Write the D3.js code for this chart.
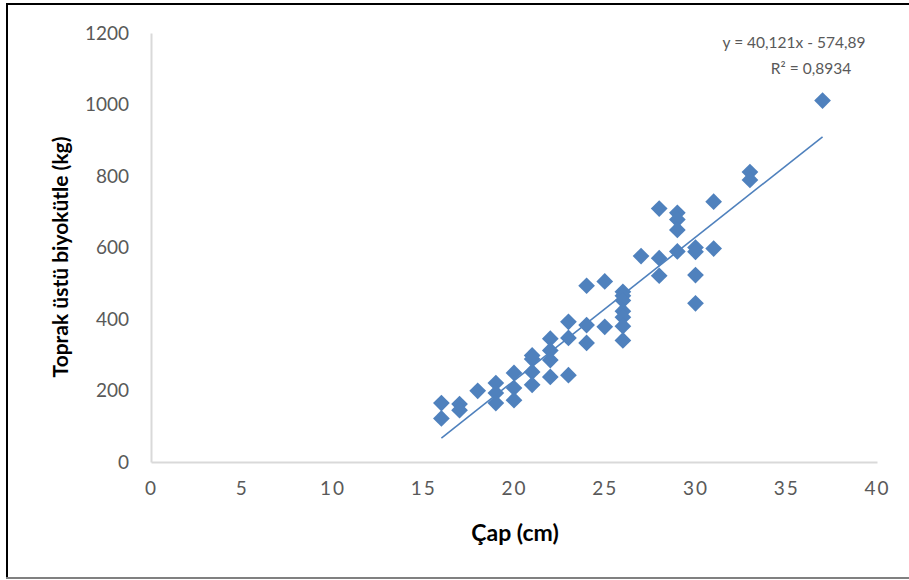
<!DOCTYPE html>
<html>
<head>
<meta charset="utf-8">
<script src="https://cdn.jsdelivr.net/npm/d3@7"></script>
<style>
  html, body { margin: 0; padding: 0; background: #fff; }
  svg { display: block; font-family: Lato, "Open Sans", sans-serif; }
  .tick text { fill: #595959; font-size: 19px; }
  .title { font-weight: bold; fill: #000; }
  .eq { fill: #595959; font-size: 15.5px; }
</style>
</head>
<body>
<svg id="chart" width="909" height="580"></svg>
<script>
// diameter (cm) and above-ground biomass (kg)
const capCm = [16, 16, 17, 17, 18, 19, 19, 19, 20, 20, 20,
  21, 21, 21, 21, 22, 22, 22, 22, 23, 23, 23, 24, 24, 24, 25, 25,
  26, 26, 26, 26, 26, 26, 26, 27, 28, 28, 28, 29, 29, 29, 29,
  30, 30, 30, 30, 31, 31, 33, 33, 37];
const biyokutle = [165, 122, 162, 145, 199, 221, 193, 165, 249, 207, 173,
  298, 288, 252, 216, 345, 312, 285, 238, 392, 347, 243, 493, 383, 333, 505, 378,
  476, 465, 452, 422, 405, 380, 340, 576, 709, 570, 521, 697, 678, 649, 589,
  600, 588, 523, 444, 728, 597, 811, 789, 1011];

const xTicks = [0, 5, 10, 15, 20, 25, 30, 35, 40];
const yTicks = [0, 200, 400, 600, 800, 1000, 1200];

// linear trendline as printed on the chart
const slope = 40.121, intercept = -574.89;
const eqLines = ['y = 40,121x - 574,89', 'R² = 0,8934'];

const COLOR = '#4F81BD';
const svg = d3.select('#chart');

// outer frame
svg.append('line').attr('x1', 6).attr('x2', 909).attr('y1', 4).attr('y2', 4)
  .attr('stroke', '#000').attr('stroke-width', 2);
svg.append('line').attr('x1', 7).attr('x2', 7).attr('y1', 4).attr('y2', 578)
  .attr('stroke', '#000').attr('stroke-width', 2);
svg.append('line').attr('x1', 6).attr('x2', 909).attr('y1', 578).attr('y2', 578)
  .attr('stroke', '#808080').attr('stroke-width', 2);

const x = d3.scaleLinear().domain([0, 40]).range([151, 877]);
const y = d3.scaleLinear().domain([0, 1200]).range([462, 33]);

const xAxis = svg.append('g').attr('transform', `translate(0,${y(0)})`)
  .call(d3.axisBottom(x).tickValues(xTicks).tickSize(0).tickPadding(20));
xAxis.select('.domain').attr('stroke', '#d9d9d9').attr('stroke-width', 2);
xAxis.selectAll('.tick text').attr('letter-spacing', '2px');

const yAxis = svg.append('g').attr('transform', `translate(${x(0)},0)`)
  .call(d3.axisLeft(y).tickValues(yTicks).tickFormat(d3.format('d'))
    .tickSize(0).tickPadding(22));
yAxis.select('.domain').attr('stroke', '#d9d9d9').attr('stroke-width', 2);

svg.selectAll('.tick text').style('font-family', 'Lato, sans-serif');

// trendline over the data range
const [xMin, xMax] = d3.extent(capCm);
svg.append('line')
  .attr('x1', x(xMin)).attr('y1', y(slope * xMin + intercept))
  .attr('x2', x(xMax)).attr('y2', y(slope * xMax + intercept))
  .attr('stroke', COLOR).attr('stroke-width', 1.6);

const diamond = d3.symbol().type(d3.symbolSquare).size(140);
svg.append('g').selectAll('path').data(capCm).enter().append('path')
  .attr('d', diamond)
  .attr('fill', COLOR)
  .attr('transform', (d, i) => `translate(${x(d)},${y(biyokutle[i])}) rotate(45)`);

svg.append('g').selectAll('text').data(eqLines).enter().append('text')
  .attr('class', 'eq')
  .attr('x', (d, i) => i === 0 ? 794 : 811)
  .attr('y', (d, i) => 48 + i * 26)
  .attr('text-anchor', 'middle')
  .text(d => d);

svg.append('text').attr('class', 'title')
  .attr('x', 515).attr('y', 541).attr('text-anchor', 'middle')
  .style('font-size', '23px')
  .text('Çap (cm)');

svg.append('text').attr('class', 'title')
  .attr('transform', 'translate(68,257) rotate(-90)')
  .attr('text-anchor', 'middle')
  .style('font-size', '21px')
  .text('Toprak üstü biyokütle (kg)');
</script>
</body>
</html>
